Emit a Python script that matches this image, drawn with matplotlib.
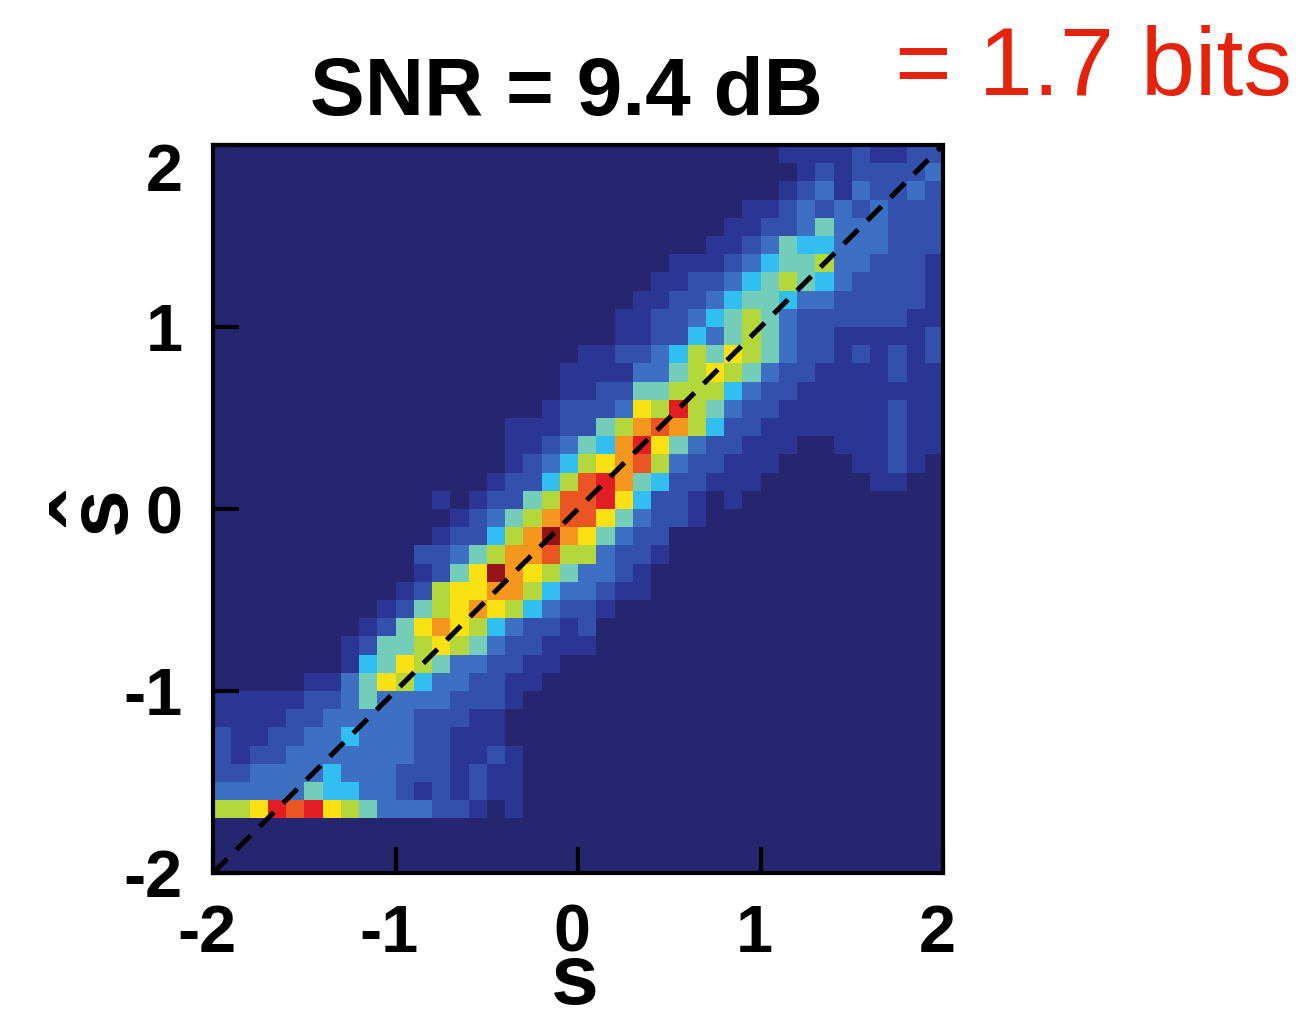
import numpy as np
import matplotlib
matplotlib.use('Agg')
import matplotlib.pyplot as plt
from matplotlib.colors import ListedColormap, BoundaryNorm
from matplotlib.transforms import ScaledTranslation

plt.rcParams['font.family'] = ['Liberation Sans', 'DejaVu Sans']
plt.rcParams['axes.unicode_minus'] = False

# colour of each histogram level, 0 = empty bin ... 11 = densest bin
level_colors = ['#262670', '#2b3593', '#3450ad', '#3d6fc3', '#32bef0', '#73cdb9',
                '#b4d73c', '#fae114', '#f5961e', '#eb5523', '#e11e23', '#961419']

# 2D histogram of s_hat vs s, 40x40 bins on [-2, 2]
# one entry per row from s_hat = 2 down to s_hat = -2:
# (first non-empty column, levels from that column on; 'a' = 10, 'b' = 11)
hist_rows = [
    (31, '111121122'),
    (32, '12122223'),
    (31, '123132232'),
    (29, '11232323222'),
    (28, '112235333222'),
    (27, '1123544333222'),
    (25, '111234556332221'),
    (24, '1122345654322221'),
    (23, '11223455433222221'),
    (22, '112234565322222211'),
    (22, '112243565322111112'),
    (20, '11223465765322121212'),
    (19, '111133567653221111211'),
    (19, '112255666432211111111'),
    (18, '1222376a65322111111211'),
    (16, '111225689864221111111211'),
    (16, '1123548a7532211100111211'),
    (16, '123467896322111000011210'),
    (15, '122469a854221110000001100'),
    (12, '101225699a7422101'),
    (13, '12356899753221'),
    (12, '122468b875322'),
    (11, '22356889663221'),
    (11, '1257b87653321'),
    (10, '12677886433211'),
    (9, '1256787643221'),
    (8, '1257876432212'),
    (7, '12556765322111'),
    (7, '145765332211'),
    (5, '1135764332211'),
    (0, '11111223533332221'),
    (0, '1111223333322211'),
    (0, '2112233433322111'),
    (0, '21223333333221121'),
    (0, '22333343332221211'),
    (0, '33333544332121211'),
    (0, '667a9a76533322101'),
    (0, ''),
    (0, ''),
    (0, ''),
]

tick_values = [-2, -1, 0, 1, 2]
title_text = 'SNR = 9.4 dB'
info_text = '= 1.7 bits'

n_bins = len(hist_rows)
edges = np.linspace(-2, 2, n_bins + 1)
hist = np.zeros((n_bins, n_bins))
for r, (start, levels) in enumerate(hist_rows):
    vals = [int(ch, 16) for ch in levels]
    hist[n_bins - 1 - r, start:start + len(vals)] = vals

cmap = ListedColormap(level_colors)
norm = BoundaryNorm(np.arange(-0.5, len(level_colors)), len(level_colors))

W, H = 1312, 1017
fig = plt.figure(figsize=(W / 100, H / 100), dpi=100)
ax = fig.add_axes([213 / W, 144 / H, 730 / W, 728 / H])

ax.pcolormesh(edges, edges, hist, cmap=cmap, norm=norm)

# identity line s_hat = s
ax.plot([-2, 2], [-2, 2], color='black', lw=3.6, ls=(0, (4, 2.6)))

ax.set_xlim(-2, 2)
ax.set_ylim(-2, 2)
ax.set_xticks(tick_values)
ax.set_yticks(tick_values)
ax.tick_params(direction='in', length=19, width=3, labelsize=48)
ax.tick_params(axis='x', pad=22)
ax.tick_params(axis='y', pad=22)
for sp in ax.spines.values():
    sp.set_linewidth(3)
    sp.set_color('black')

# small nudges of the tick labels
for lbl in ax.get_xticklabels():
    lbl.set_fontweight('bold')
    lbl.set_transform(lbl.get_transform() + ScaledTranslation(-0.06, 0, fig.dpi_scale_trans))
for lbl in ax.get_yticklabels():
    lbl.set_fontweight('bold')
top_lbl = ax.get_yticklabels()[-1]
top_lbl.set_transform(top_lbl.get_transform() + ScaledTranslation(0, -0.22, fig.dpi_scale_trans))

fig.text(566 / W, 1 - 115 / H, title_text, ha='center', va='baseline',
         fontsize=59, fontweight='bold')
fig.text(895 / W, 1 - 95 / H, info_text, ha='left', va='baseline',
         fontsize=70, color='#e3230b')

fig.text(575 / W, 1 - 1004 / H, 's', ha='center', va='baseline',
         fontsize=62, fontweight='bold')
# y label: s with a hat, rotated
fig.text(103 / W, 1 - 510 / H, 's', ha='center', va='center', rotation=90,
         fontsize=62, fontweight='bold')
fig.text(99 / W, 1 - 509 / H, '\u02c6', ha='center', va='center', rotation=90,
         fontsize=72, fontweight='bold')

fig.savefig('out.png', dpi=100)
